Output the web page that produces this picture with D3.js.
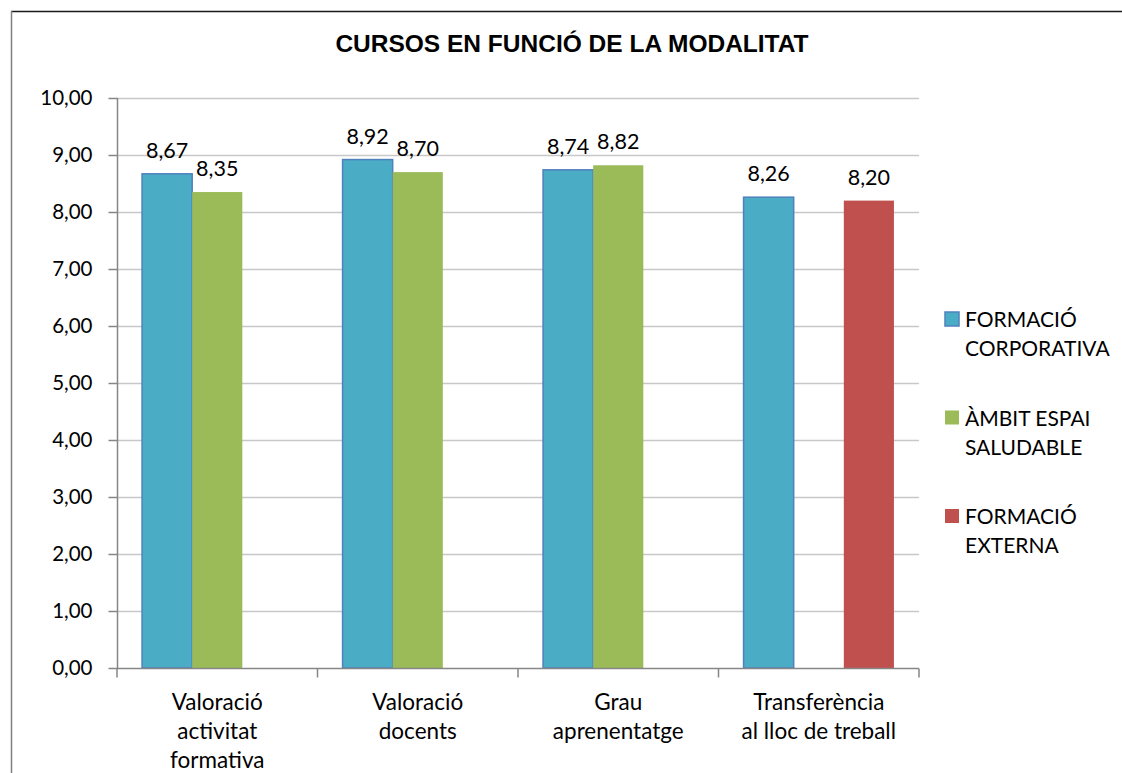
<!DOCTYPE html>
<html>
<head>
<meta charset="utf-8">
<script src="https://cdn.jsdelivr.net/npm/d3@7"></script>
<style>
  body { margin: 0; background: #fff; }
  text { font-family: Lato, "Open Sans", sans-serif; fill: #000; }
</style>
</head>
<body>
<div id="chart"></div>
<script>
var categories = [
    ["Valoració", "activitat", "formativa"],
    ["Valoració", "docents"],
    ["Grau", "aprenentatge"],
    ["Transferència", "al lloc de treball"]
];
var seriesNames = [
    ["FORMACIÓ", "CORPORATIVA"],
    ["ÀMBIT ESPAI", "SALUDABLE"],
    ["FORMACIÓ", "EXTERNA"]
];
var corporativa = [8.67, 8.92, 8.74, 8.26];
var saludable = [8.35, 8.70, 8.82, null];
var externa = [null, null, null, 8.20];
var yTicks = [0, 1, 2, 3, 4, 5, 6, 7, 8, 9, 10];
var colors = ["#4bacc6", "#9bbb59", "#c0504d"];

var width = 1122, height = 773;
var margin = {left: 117, right: 203, top: 98, bottom: 105};

var svg = d3.select("#chart")
    .append("svg")
    .attr("width", width)
    .attr("height", height);

// outer frame
svg.append("line")
    .attr("x1", 11).attr("y1", 11.5).attr("x2", width).attr("y2", 11.5)
    .attr("stroke", "#1a1a1a").attr("stroke-width", 1.5);
svg.append("line")
    .attr("x1", 11.5).attr("y1", 11).attr("x2", 11.5).attr("y2", height)
    .attr("stroke", "#808080").attr("stroke-width", 1.5);

svg.append("text")
    .attr("x", 572)
    .attr("y", 52)
    .attr("text-anchor", "middle")
    .style("font-family", "'Liberation Sans', Arial, sans-serif")
    .style("font-weight", "bold")
    .style("font-size", "24.5px")
    .text("CURSOS EN FUNCIÓ DE LA MODALITAT");

var x0 = d3.scaleBand()
    .domain(d3.range(categories.length))
    .range([margin.left, width - margin.right])
    .paddingInner(0.25)
    .paddingOuter(0.125);

var x1 = d3.scaleBand()
    .domain([0, 1, 2])
    .range([0, x0.bandwidth()]);

var y = d3.scaleLinear()
    .domain([0, 10])
    .range([height - margin.bottom, margin.top]);

var fmt = function(v){ return d3.format(".2f")(v).replace(".", ","); };

// gridlines
svg.append("g")
    .selectAll("line")
    .data(yTicks.slice(1))
    .enter()
    .append("line")
    .attr("x1", margin.left)
    .attr("x2", width - margin.right)
    .attr("y1", function(d){ return Math.round(y(d)) + 0.5; })
    .attr("y2", function(d){ return Math.round(y(d)) + 0.5; })
    .attr("stroke", "#c8c8c8")
    .attr("stroke-width", 1.5);

// y axis
var yAxis = svg.append("g")
    .attr("transform", "translate(" + (margin.left + 0.5) + ",0)")
    .call(d3.axisLeft(y).tickValues(yTicks).tickSize(9).tickPadding(16).tickFormat(fmt));
yAxis.selectAll("line, path").attr("stroke", "#868686").attr("stroke-width", 1.5);
yAxis.select(".domain").attr("d", "M0," + y(0) + "V" + y(10));
yAxis.selectAll("text").style("font-size", "20.5px").style("font-family", "Lato, sans-serif");

// bars
var series = [corporativa, saludable, externa];
series.forEach(function(vals, s){
    var data = vals.map(function(v, i){ return {v: v, i: i}; })
        .filter(function(d){ return d.v !== null; });
    var g = svg.append("g");
    g.selectAll("rect")
        .data(data)
        .enter()
        .append("rect")
        .attr("x", function(d){ return x0(d.i) + x1(s); })
        .attr("y", function(d){ return y(d.v); })
        .attr("width", x1.bandwidth())
        .attr("height", function(d){ return y(0) - y(d.v); })
        .attr("fill", colors[s])
        .attr("stroke", s === 0 ? "#4f81bd" : "none")
        .attr("stroke-width", 1.5);
    g.selectAll("text")
        .data(data)
        .enter()
        .append("text")
        .attr("x", function(d){ return x0(d.i) + x1(s) + x1.bandwidth() / 2; })
        .attr("y", function(d){ return y(d.v) - 16; })
        .attr("text-anchor", "middle")
        .style("font-size", "21.5px")
        .text(function(d){ return fmt(d.v); });
});

// x axis
var xAxis = svg.append("g")
    .attr("transform", "translate(0," + (y(0) + 0.5) + ")");
xAxis.append("line")
    .attr("x1", margin.left).attr("x2", width - margin.right)
    .attr("stroke", "#868686").attr("stroke-width", 1.5);
var xTicks = d3.range(categories.length + 1).map(function(i){
    return margin.left + i * x0.step();
});
xAxis.selectAll(".tick")
    .data(xTicks)
    .enter()
    .append("line")
    .attr("x1", function(d){ return d; })
    .attr("x2", function(d){ return d; })
    .attr("y1", 0).attr("y2", 9)
    .attr("stroke", "#868686").attr("stroke-width", 1.5);
xAxis.selectAll("text")
    .data(categories)
    .enter()
    .append("text")
    .attr("text-anchor", "middle")
    .attr("transform", function(d, i){
        return "translate(" + (x0(i) + x0.bandwidth() / 2) + ",41)";
    })
    .style("font-size", "22.5px")
    .each(function(d){
        var t = d3.select(this);
        d.forEach(function(line, k){
            t.append("tspan").attr("x", 0).attr("y", k * 29).text(line);
        });
    });

// legend
var legend = svg.append("g")
    .selectAll("g")
    .data(seriesNames)
    .enter()
    .append("g")
    .attr("transform", function(d, i){ return "translate(945," + (312 + i * 98.5) + ")"; });
legend.append("rect")
    .attr("width", 14).attr("height", 14)
    .attr("fill", function(d, i){ return colors[i]; })
    .attr("stroke", function(d, i){ return i === 0 ? "#4f81bd" : "none"; })
    .attr("stroke-width", 1.5);
legend.append("text")
    .style("font-size", "21px")
    .each(function(d){
        var t = d3.select(this);
        d.forEach(function(line, k){
            t.append("tspan").attr("x", 20).attr("y", 15 + k * 29).text(line);
        });
    });
</script>
</body>
</html>
